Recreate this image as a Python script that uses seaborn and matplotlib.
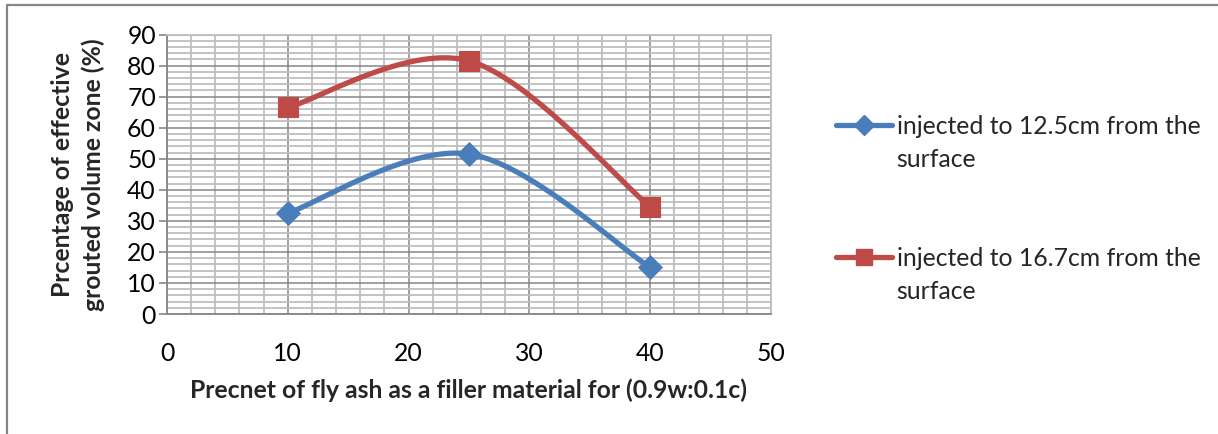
import numpy as np
import pandas as pd
import matplotlib
matplotlib.use("Agg")
import matplotlib.pyplot as plt
from matplotlib.lines import Line2D
from matplotlib.patches import Rectangle
from matplotlib.text import Annotation
from matplotlib.ticker import MultipleLocator
import seaborn as sns

# Fly-ash content (%) and effective grouted volume zone (%)
fly_ash = [10, 25, 40]
depth_12_5 = [32.5, 51.5, 15.0]
depth_16_7 = [66.5, 81.5, 34.5]
series_labels = ["injected to 12.5cm from the\nsurface",
                 "injected to 16.7cm from the\nsurface"]
x_ticks = [0, 10, 20, 30, 40, 50]
y_ticks = [0, 10, 20, 30, 40, 50, 60, 70, 80, 90]

df = pd.DataFrame({
    "fly_ash": fly_ash * 2,
    "value": depth_12_5 + depth_16_7,
    "series": [series_labels[0]] * 3 + [series_labels[1]] * 3,
})

sns.set_theme(style="white")
plt.rcParams["font.family"] = ["Lato", "DejaVu Sans"]

FS = 17.8
BLUE = "#4a7ebb"
RED = "#be4b48"
MAJOR = "#868686"
MINOR = "#bebebe"

fig = plt.figure(figsize=(12.18, 4.34), dpi=100)
ax = fig.add_axes([167 / 1218, 1 - 314 / 434, 604 / 1218, 279.5 / 434])
ax.set_xlim(0, 50)
ax.set_ylim(0, 90)


def smooth(xs, ys, k=1 / 6, n=60):
    """Bezier smoothing through the points, computed in screen space."""
    pts = ax.transData.transform(np.column_stack([xs, ys]))
    out = [pts[0]]
    m = len(pts)
    for i in range(m - 1):
        p0 = pts[i - 1] if i > 0 else pts[i]
        p1, p2 = pts[i], pts[i + 1]
        p3 = pts[i + 2] if i + 2 < m else pts[i + 1]
        c1 = p1 + (p2 - p0) * k
        c2 = p2 - (p3 - p1) * k
        t = np.linspace(0, 1, n)[1:, None]
        seg = ((1 - t) ** 3) * p1 + 3 * ((1 - t) ** 2) * t * c1 \
            + 3 * (1 - t) * t ** 2 * c2 + t ** 3 * p2
        out.extend(seg)
    out = ax.transData.inverted().transform(np.array(out))
    return out[:, 0], out[:, 1]


palette = {series_labels[0]: BLUE, series_labels[1]: RED}
markers = {series_labels[0]: "D", series_labels[1]: "s"}
sizes = {series_labels[0]: 12, series_labels[1]: 14}

handles = []
for lab in series_labels:
    sub = df[df["series"] == lab]
    sx, sy = smooth(sub["fly_ash"].to_numpy(float), sub["value"].to_numpy(float))
    sns.lineplot(x=sx, y=sy, ax=ax, color=palette[lab], lw=3.8,
                 sort=False, estimator=None, zorder=3,
                 solid_capstyle="round")
    sns.scatterplot(x=sub["fly_ash"], y=sub["value"], ax=ax,
                    marker=markers[lab], s=sizes[lab] ** 2,
                    color=palette[lab], edgecolor=palette[lab],
                    linewidth=0.8, zorder=4, legend=False)
    handles.append(Line2D([], [], color=palette[lab], lw=3.8,
                          marker=markers[lab], markersize=sizes[lab] * 0.85,
                          solid_capstyle="round"))

# Grid: majors every 10, minors every 2
ax.xaxis.set_major_locator(MultipleLocator(10))
ax.xaxis.set_minor_locator(MultipleLocator(2))
ax.yaxis.set_major_locator(MultipleLocator(10))
ax.yaxis.set_minor_locator(MultipleLocator(2))
ax.grid(which="minor", color=MINOR, lw=1.3, zorder=0)
ax.grid(which="major", color=MAJOR, lw=1.1, zorder=1)
ax.set_axisbelow(True)
ax.set_xticks(x_ticks)
ax.set_yticks(y_ticks)

for side in ["top", "right"]:
    ax.spines[side].set_color(MINOR)
    ax.spines[side].set_linewidth(1.3)
for side in ["left", "bottom"]:
    ax.spines[side].set_color(MAJOR)
    ax.spines[side].set_linewidth(1.3)

ax.tick_params(axis="y", which="major", left=True, length=6, width=1.2,
               color=MAJOR, direction="out", pad=2, labelsize=FS,
               labelcolor="black")
ax.tick_params(axis="y", which="minor", left=False)
ax.tick_params(axis="x", which="both", bottom=False, labelsize=FS,
               pad=14, labelcolor="black")

ax.set_xlabel("Precnet of fly ash as a filler material for (0.9w:0.1c)",
              fontsize=FS, fontweight="bold", labelpad=10)
ax.set_ylabel("Prcentage of effective\ngrouted volume zone (%)",
              fontsize=FS, fontweight="bold", labelpad=16,
              linespacing=1.35)

# Legend: handle beside the first line of each label, wrapped text below
first_lines = [s.split("\n")[0] for s in series_labels]
leg = fig.legend(handles, first_lines, loc="upper left",
                 bbox_to_anchor=(836 / 1218, 1 - 115 / 434),
                 frameon=False, fontsize=FS, handlelength=2.25,
                 handletextpad=0.2, labelspacing=4.4, borderaxespad=0,
                 borderpad=0)
for txt, full in zip(leg.get_texts(), series_labels):
    rest = "\n".join(full.split("\n")[1:])
    fig.add_artist(Annotation(
        rest, xy=(0, 0), xycoords=txt, xytext=(0, -7.5),
        textcoords="offset points", va="top", ha="left", fontsize=FS,
        zorder=10))

# Chart-area border
fig.patches.append(Rectangle((7 / 1218, -0.05), 1.2, (434 - 5) / 434 + 0.05,
                             transform=fig.transFigure, fill=False,
                             edgecolor=MAJOR, lw=1.6))

fig.savefig("out.png", dpi=100)
